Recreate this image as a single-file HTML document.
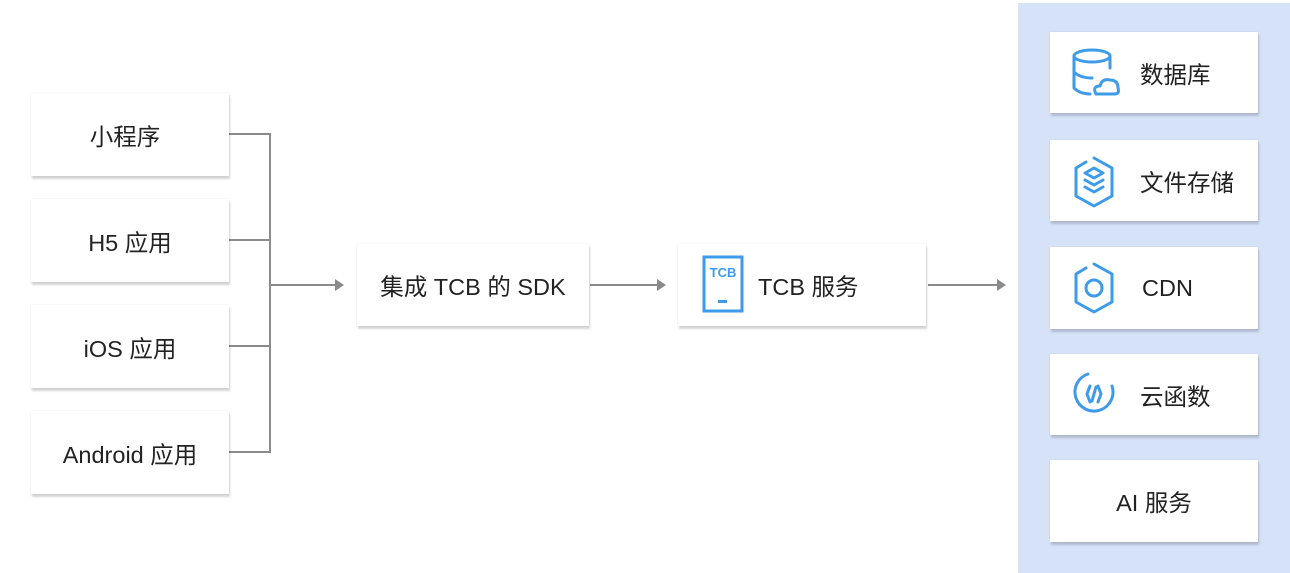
<!DOCTYPE html>
<html><head><meta charset="utf-8"><style>
body{margin:0;width:1290px;height:567px;background:#fff;position:relative;overflow:hidden;font-family:"Liberation Sans","Noto Sans CJK SC",sans-serif;color:#222}
.b{position:absolute;background:#fff;box-shadow:1px 3px 2px rgba(0,0,0,0.17),0 0 1px rgba(0,0,0,0.14);display:flex;align-items:center;justify-content:center;font-size:23.5px}
.panel{position:absolute;left:1018px;top:3px;width:274px;height:570px;background:#d5e2f8}
svg.l{position:absolute;left:0;top:0}
.ic{position:absolute}
</style></head><body>
<div class="panel"></div>
<svg class="l" width="1290" height="567">
<g stroke="#8a8a8a" stroke-width="2" fill="none">
<path d="M229 134H270M229 240H270M229 346H270M229 452H270M270 133V453M270 285H336M590 285H658M928 285H998"/>
</g>
<g fill="#8a8a8a">
<path d="M335 279L344 285L335 291Z"/><path d="M657 279L666 285L657 291Z"/><path d="M997 279L1006 285L997 291Z"/>
</g>
</svg>
<div class="b" style="left:31px;top:93px;width:198px;height:83px;padding-right:10px;box-sizing:border-box">小程序</div>
<div class="b" style="left:31px;top:199px;width:198px;height:83px">H5 应用</div>
<div class="b" style="left:31px;top:305px;width:198px;height:83px">iOS 应用</div>
<div class="b" style="left:31px;top:411px;width:198px;height:83px">Android 应用</div>
<div class="b" style="left:357px;top:244px;width:232px;height:82px">集成 TCB 的 SDK</div>
<div class="b" style="left:678px;top:244px;width:248px;height:82px;justify-content:flex-start;padding-left:80px;box-sizing:border-box">TCB 服务</div>
<svg class="ic" style="left:702px;top:255px" width="42" height="58" viewBox="0 0 42 58">
<rect x="2" y="2" width="38" height="54" fill="none" stroke="#3d9be9" stroke-width="3"/>
<text x="21" y="22" font-size="13" font-weight="bold" fill="#3d9be9" text-anchor="middle" font-family="Liberation Sans,sans-serif">TCB</text>
<rect x="16" y="45" width="9" height="3" fill="#3d9be9"/>
</svg>
<div class="b" style="left:1050px;top:32px;width:208px;height:81px;justify-content:flex-start;padding-left:90px;box-sizing:border-box">数据库</div>
<div class="b" style="left:1050px;top:140px;width:208px;height:81px;justify-content:flex-start;padding-left:90px;box-sizing:border-box">文件存储</div>
<div class="b" style="left:1050px;top:247px;width:208px;height:82px;justify-content:flex-start;padding-left:92px;box-sizing:border-box">CDN</div>
<div class="b" style="left:1050px;top:354px;width:208px;height:81px;justify-content:flex-start;padding-left:90px;box-sizing:border-box">云函数</div>
<div class="b" style="left:1050px;top:460px;width:208px;height:82px">AI 服务</div>
<svg class="l" width="1290" height="567">
<g stroke="#3d9be9" stroke-width="3" fill="none" stroke-linecap="round" stroke-linejoin="round">
<ellipse cx="1092" cy="56" rx="18" ry="6"/>
<path d="M1074 56V88Q1080 94 1090 94M1110 56V68M1074 72Q1080 78 1092 78"/>
<path d="M1096 94Q1092 86 1100 86Q1102 78 1110 80Q1118 80 1118 88Q1120 94 1114 94Z"/>
<path d="M1094 158L1112 168V196L1094 206L1076 196V168L1086 162"/>
<path d="M1094 168L1103 173L1094 178L1085 173ZM1085 180L1094 185L1103 180M1085 187L1094 192L1103 187"/>
<path d="M1094 264L1112 274V302L1094 312L1076 302V274L1086 268"/>
<circle cx="1094" cy="288" r="8"/>
<path d="M1088 374A19 19 0 1 0 1112 386"/>
<path d="M1090 386L1087 394L1090 402M1098 386L1101 394L1098 402M1096 387L1092 401"/>
</g>
</svg>
</body></html>
